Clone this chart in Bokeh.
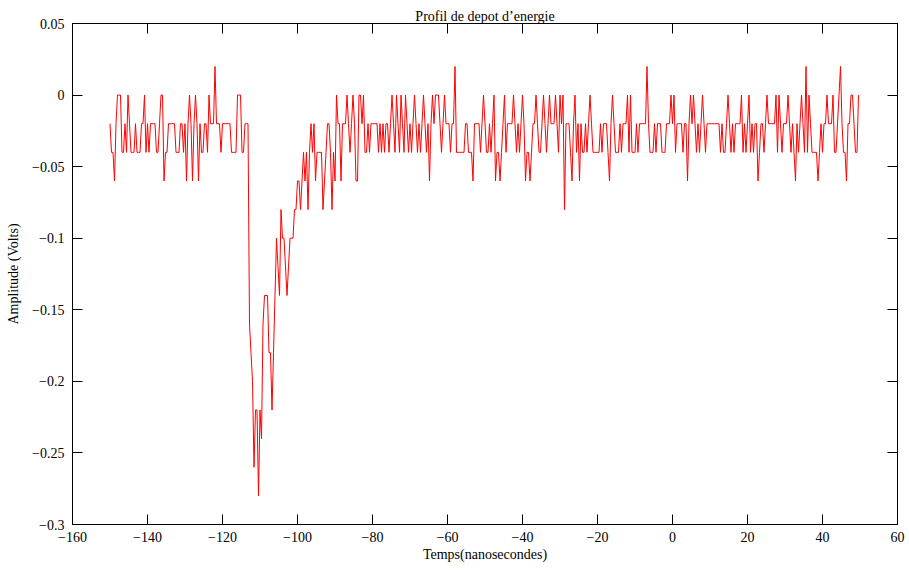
import numpy as np
from bokeh.plotting import figure
from bokeh.models import (FixedTicker, LinearAxis, CustomJSTickFormatter, Range1d,
                          CustomLabelingPolicy)
from bokeh.embed import file_html
from bokeh.resources import INLINE

# ---------------- data ----------------
title_text = "Profil de depot d\u2019energie"
x_label = "Temps(nanosecondes)"
y_label = "Amplitude (Volts)"

t_start_ns = -150.0     # first sample time
t_step_ns = 0.4         # sampling interval

# amplitude of each sample, in millivolts
amplitude_mV = [
    -20, -40, -40, -60, -20, 0, 0, 0, -40, -40,
    -20, -40, 0, -20, -40, -40, -40, -20, -40, -40,
    -40, -20, -20, 0, -40, -20, -40, -20, -20, -20,
    -20, -40, -40, -20, 0, 0, -60, -40, -40, -20,
    -20, -20, -20, -20, -40, -40, -40, -20, -20, -40,
    -20, -60, -20, 0, -20, -60, -20, 0, -20, -60,
    -20, -40, -40, -20, -20, -40, 0, -20, -20, -20,
    20, -20, -20, -20, -40, -20, -20, -20, -20, -20,
    -20, -40, -40, -40, -40, 0, 0, 0, -40, -40,
    -20, -20, -20, -160, -180, -200, -260, -220, -220, -280,
    -220, -240, -160, -140, -140, -140, -180, -180, -220, -180,
    -140, -100, -120, -140, -80, -100, -100, -120, -140, -120,
    -100, -100, -100, -80, -80, -60, -60, -80, -60, -40,
    -60, -40, -80, -40, -20, -40, -20, -60, -40, -40,
    -40, -40, -80, -60, -40, -20, -20, -40, -80, -40,
    -60, 0, -20, -20, -60, -20, -20, -20, 0, -20,
    -40, -20, 0, -20, -60, -60, 0, 0, -20, 0,
    -40, -40, -20, -40, -20, -20, -20, -20, -20, -40,
    -20, -40, -20, -40, -20, -20, -40, -20, 0, -20,
    -40, 0, -20, -40, 0, -20, -40, 0, -20, -40,
    -20, -40, -20, 0, -20, -40, -20, -40, -20, 0,
    -20, -40, -20, -60, -20, 0, -20, 0, 0, 0,
    -20, -40, -20, 0, -20, -20, -20, -40, -20, -20,
    20, -40, -40, -40, -40, -40, -40, -20, -20, -40,
    -40, -40, -60, -20, -20, -20, -20, -40, -20, 0,
    -20, -40, -40, -20, -40, -20, 0, -60, -40, -40,
    -60, -40, -20, 0, -40, -20, -20, -20, -20, 0,
    -20, -40, -20, -40, -20, 0, -20, -60, -40, -40,
    -60, -40, -20, -20, 0, -20, -40, -40, -20, 0,
    -20, -40, -20, 0, -20, -20, -20, 0, -20, -40,
    0, -20, 0, -80, -20, -20, -20, -40, -60, -20,
    0, -40, -20, -60, -20, -40, -40, -20, -40, -20,
    0, -20, -40, -40, -40, -40, -40, -20, -40, -20,
    -20, -20, -40, -60, -20, 0, -20, -40, -40, -40,
    -20, -40, -20, -20, -20, 0, -40, 0, -40, -40,
    -40, -20, -40, -20, -20, -20, -20, -20, 20, -20,
    -40, -40, -40, -20, -40, -20, -20, -20, -40, -40,
    -40, -20, -20, -20, 0, -20, 0, -40, -20, -20,
    -20, -20, -40, -20, -20, -60, -20, 0, -20, 0,
    -20, -40, -20, -40, -20, 0, -20, -40, -20, -20,
    -20, -20, -20, -20, -20, -20, -20, -40, -20, -40,
    -40, -20, 0, -20, -40, -20, -40, -20, -20, -20,
    -20, 0, -40, -20, -40, -20, 0, -40, -20, -40,
    -20, -20, -60, -40, -20, -20, -40, -20, 0, -20,
    -20, -20, -20, -20, 0, -40, 0, -20, -40, -20,
    -20, -20, 0, -20, -40, -20, -40, -60, -20, -40,
    -20, 0, -20, -40, 20, -40, 0, -20, -40, -40,
    -40, -40, -60, -40, -20, -40, -20, -20, 0, -20,
    -20, -20, 0, -40, -40, -20, 0, 20, -20, -40,
    -40, -60, -20, -20, 0, 0, -20, -40, -40, 0,
]

x_ticks = [-160, -140, -120, -100, -80, -60, -40, -20, 0, 20, 40, 60]
y_ticks = [-0.3, -0.25, -0.2, -0.15, -0.1, -0.05, 0, 0.05]
x_limits = (-160, 60)
y_limits = (-0.3, 0.05)

# ---------------- derived ----------------
amp_V = np.array(amplitude_mV, dtype=float) / 1000.0
t_ns = t_start_ns + t_step_ns * np.arange(len(amp_V))

FONT = "Liberation Serif"
FS = "14px"

p = figure(width=909, height=571,
           x_range=Range1d(*x_limits), y_range=Range1d(*y_limits),
           output_backend="svg", toolbar_location=None,
           min_border_left=72, min_border_right=12,
           min_border_top=23, min_border_bottom=47)

p.title.text = title_text
p.title.align = "center"
p.title.text_font = FONT
p.title.text_font_size = FS
p.title.text_font_style = "normal"
p.title.text_color = "black"
p.title.standoff = 0
p.title.offset = 0

p.xgrid.visible = False
p.ygrid.visible = False
p.outline_line_color = "black"
p.outline_line_width = 1
p.background_fill_color = "white"
p.border_fill_color = "white"

fmt = CustomJSTickFormatter(code="""
    var s = String(Math.round(tick * 1000) / 1000);
    return s.replace('-', '\u2212');
""")

no_labels = CustomLabelingPolicy(code="""
    for (let i = 0; i < indices.size; i++) { indices.unset(i) }
    return indices
""")

def style_axis(ax, ticks, show_labels):
    ax.ticker = FixedTicker(ticks=ticks)
    ax.formatter = fmt
    ax.major_tick_in = 10
    ax.major_tick_out = 0
    ax.minor_tick_line_color = None
    ax.major_tick_line_color = "black"
    ax.axis_line_color = "black"
    ax.major_label_text_font = FONT
    ax.major_label_text_color = "black"
    ax.axis_label_text_font = FONT
    ax.axis_label_text_font_size = FS
    ax.axis_label_text_font_style = "normal"
    ax.axis_label_text_color = "black"
    if show_labels:
        ax.major_label_text_font_size = FS
    else:
        ax.major_label_text_font_size = "0px"
        ax.major_label_policy = no_labels
        ax.major_label_standoff = 0
        ax.axis_label_standoff = 0

style_axis(p.xaxis[0], x_ticks, True)
style_axis(p.yaxis[0], y_ticks, True)
p.xaxis[0].axis_label = x_label
p.xaxis[0].major_label_standoff = 7
p.xaxis[0].axis_label_standoff = 2
p.yaxis[0].axis_label = y_label
p.yaxis[0].major_label_standoff = 8
p.yaxis[0].axis_label_standoff = 8

top_ax = LinearAxis()
style_axis(top_ax, x_ticks, False)
top_ax.major_label_standoff = 6   # lifts the title away from the frame
p.add_layout(top_ax, "above")
right_ax = LinearAxis()
style_axis(right_ax, y_ticks, False)
p.add_layout(right_ax, "right")

p.line(t_ns, amp_V, line_color="#ff0000", line_width=1)

open("out.html", "w").write(file_html(p, INLINE))
